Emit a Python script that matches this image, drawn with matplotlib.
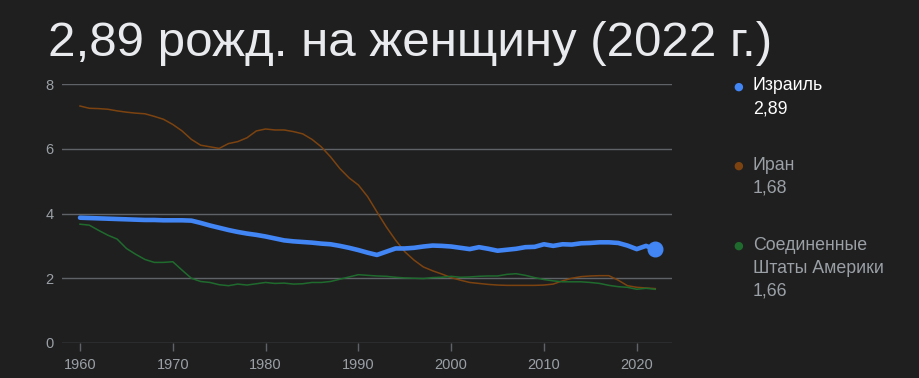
import matplotlib
matplotlib.use("Agg")
import matplotlib.pyplot as plt

plt.rcParams['font.family'] = ['Liberation Sans', 'DejaVu Sans']

BG = "#1f1f1f"
GRID = "#5f6368"
TICK = "#9aa0a6"
TITLE = "#e8eaed"

years = list(range(1960, 2023))

israel = [3.87, 3.86, 3.85, 3.84, 3.83, 3.82, 3.81, 3.80, 3.80, 3.79,
          3.79, 3.79, 3.78, 3.71, 3.63, 3.56, 3.49, 3.43, 3.38, 3.34,
          3.29, 3.23, 3.17, 3.14, 3.12, 3.10, 3.07, 3.05, 3.00, 2.94,
          2.87, 2.79, 2.72, 2.82, 2.92, 2.92, 2.94, 2.98, 3.01, 3.00,
          2.98, 2.94, 2.90, 2.96, 2.91, 2.85, 2.88, 2.91, 2.96, 2.97,
          3.05, 3.00, 3.05, 3.04, 3.08, 3.09, 3.11, 3.11, 3.09, 3.01,
          2.90, 3.00, 2.89]

iran = [7.32, 7.25, 7.24, 7.22, 7.17, 7.13, 7.10, 7.08, 7.00, 6.91,
        6.75, 6.55, 6.29, 6.11, 6.06, 6.01, 6.16, 6.22, 6.34, 6.55,
        6.61, 6.58, 6.58, 6.53, 6.46, 6.29, 6.06, 5.75, 5.39, 5.10,
        4.88, 4.52, 4.05, 3.59, 3.18, 2.82, 2.56, 2.35, 2.23, 2.13,
        2.02, 1.94, 1.87, 1.84, 1.81, 1.79, 1.78, 1.78, 1.78, 1.78,
        1.79, 1.82, 1.92, 2.00, 2.05, 2.07, 2.08, 2.08, 1.94, 1.77,
        1.72, 1.70, 1.68]

usa = [3.67, 3.64, 3.48, 3.33, 3.21, 2.92, 2.74, 2.58, 2.49, 2.49,
       2.51, 2.25, 2.00, 1.90, 1.87, 1.80, 1.77, 1.82, 1.79, 1.83,
       1.87, 1.84, 1.85, 1.82, 1.83, 1.87, 1.87, 1.90, 1.97, 2.04,
       2.11, 2.09, 2.07, 2.06, 2.03, 2.01, 2.00, 1.99, 2.02, 2.03,
       2.06, 2.03, 2.04, 2.06, 2.07, 2.07, 2.12, 2.14, 2.09, 2.02,
       1.96, 1.92, 1.89, 1.89, 1.89, 1.87, 1.84, 1.78, 1.74, 1.72,
       1.66, 1.69, 1.66]

names = ["Израиль", "Иран", "Соединенные\nШтаты Америки"]
last_values = ["2,89", "1,68", "1,66"]
colors = ["#4285f4", "#7c4310", "#1f6b2e"]

title = "2,89 рожд. на женщину (2022 г.)"
xticks = [1960, 1970, 1980, 1990, 2000, 2010, 2020]
yticks = [0, 2, 4, 6, 8]

fig = plt.figure(figsize=(9.2, 3.78), dpi=100, facecolor=BG)
ax = fig.add_axes([62 / 920, 1 - 343 / 378, 610 / 920, 259 / 378])
ax.set_facecolor(BG)

ax.plot(years, iran, color=colors[1], lw=1.1, zorder=3)
ax.plot(years, usa, color=colors[2], lw=1.1, zorder=3)
ax.plot(years, israel, color=colors[0], lw=3.3, zorder=4,
        solid_joinstyle="round", solid_capstyle="round")
ax.plot(years[-1], israel[-1], "o", color=colors[0], ms=10.5, zorder=5)

ax.set_xlim(1958.06, 2023.8)
ax.set_ylim(0, 8)
ax.set_xticks(xticks)
ax.set_yticks(yticks)
ax.grid(axis="y", color=GRID, lw=1.0)
ax.set_axisbelow(True)
for s in ax.spines.values():
    s.set_visible(False)
ax.tick_params(axis="x", colors=GRID, length=6, width=1, pad=5,
               labelcolor=TICK, labelsize=10.5)
ax.tick_params(axis="y", length=0, pad=6, labelcolor=TICK, labelsize=10.5)

fig.text(48 / 920, 1 - 43 / 378, title, color=TITLE, fontsize=35.5,
         va="center", ha="left")

# legend on the right
dot_y = [86.5, 166, 246]
for i, (n, v, c) in enumerate(zip(names, last_values, colors)):
    y = dot_y[i]
    fig.text(738 / 920, 1 - y / 378, "●", color=c, fontsize=8,
             ha="center", va="center", family="DejaVu Sans")
    col = "#ffffff" if i == 0 else TICK
    fig.text(753 / 920, 1 - (y - 9) / 378, n + "\n" + v, color=col,
             fontsize=12.8, ha="left", va="top", linespacing=1.45)

fig.savefig("out.png", dpi=100, facecolor=BG)
